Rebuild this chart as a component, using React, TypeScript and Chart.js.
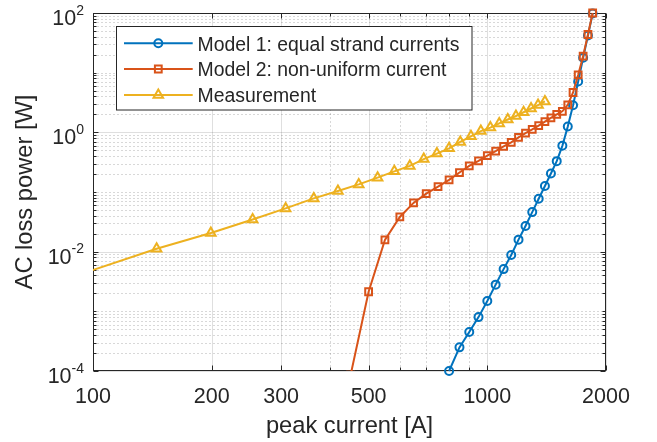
import React, { useEffect, useRef } from "react";
import { Chart, registerables } from "chart.js";

Chart.register(...registerables);

// ---------- data ----------
const X_TICKS = [100, 200, 300, 500, 1000, 2000];
const X_MINOR = [400, 600, 700, 800, 900];
const Y_TICK_EXPONENTS = [2, 0, -2, -4];

const model1X = [800, 850, 900, 950, 1000, 1050, 1100, 1150, 1200, 1250, 1300, 1350, 1400, 1450, 1500, 1550, 1600, 1650, 1700, 1750, 1800, 1850];
const model1Y = [1e-4, 2.49e-4, 4.5e-4, 8.0e-4, 1.49e-3, 2.8e-3, 5.1e-3, 8.8e-3, 1.59e-2, 2.7e-2, 4.6e-2, 7.7e-2, 0.126, 0.204, 0.329, 0.594, 1.25, 2.84, 7.1, 17.8, 42, 98];

const model2X = [450, 500, 550, 600, 650, 700, 750, 800, 850, 900, 950, 1000, 1050, 1100, 1150, 1200, 1250, 1300, 1350, 1400, 1450, 1500, 1550, 1600, 1650, 1700, 1750, 1800, 1850];
const model2Y = [8.5e-5, 2.13e-3, 1.57e-2, 3.82e-2, 6.56e-2, 9.4e-2, 0.123, 0.16, 0.212, 0.274, 0.333, 0.408, 0.484, 0.582, 0.68, 0.824, 0.97, 1.12, 1.3, 1.51, 1.75, 2.0, 2.25, 2.89, 4.65, 9.15, 19.0, 43.6, 100];

const measX = [90, 145, 199, 254, 308, 363, 418, 472, 527, 581, 636, 690, 745, 800, 854, 909, 963, 1018, 1072, 1127, 1182, 1236, 1291, 1345, 1400];
const measY = [3.9e-3, 0.0112, 0.0206, 0.0347, 0.0531, 0.0781, 0.104, 0.134, 0.174, 0.222, 0.274, 0.356, 0.44, 0.54, 0.69, 0.857, 1.05, 1.2, 1.41, 1.64, 1.88, 2.17, 2.51, 2.86, 3.29];

const LABELS = ["Model 1: equal strand currents", "Model 2: non-uniform current", "Measurement"];
const COLORS = ["#0072BD", "#D95319", "#EDB120"];
const STYLES = ["circle", "rect", "triangle"];

// ---------- styling ----------
const FONT = "'Liberation Sans', Arial, Helvetica, sans-serif";
const AXIS_COLOR = "#262626";

const toPoints = (xs: number[], ys: number[]) => xs.map((x, i) => ({ x, y: ys[i] }));

function yMinorValues(): number[] {
  const out: number[] = [];
  for (let e = -4; e < 2; e++) {
    for (let k = 1; k <= 9; k++) {
      if (k === 1 && e % 2 === 0) continue;
      out.push(k * Math.pow(10, e));
    }
  }
  return out;
}

function drawMarker(ctx: CanvasRenderingContext2D, style: string, x: number, y: number, r: number) {
  ctx.beginPath();
  if (style === "circle") {
    ctx.arc(x, y, r, 0, Math.PI * 2);
  } else if (style === "rect") {
    const s = r * Math.SQRT1_2;
    ctx.rect(x - s, y - s, 2 * s, 2 * s);
  } else {
    const a = (2 * Math.PI) / 3;
    ctx.moveTo(x, y - r);
    ctx.lineTo(x + Math.sin(a) * r, y - Math.cos(a) * r);
    ctx.lineTo(x + Math.sin(2 * a) * r, y - Math.cos(2 * a) * r);
    ctx.closePath();
  }
  ctx.stroke();
}

const gridPlugin = {
  id: "matlabGrid",
  beforeDatasetsDraw(chart: any) {
    const { ctx, chartArea: a, scales } = chart;
    const x = scales.x;
    const y = scales.y;
    const L = a.left + 0.5, R = a.right - 0.5, T = a.top + 0.5, B = a.bottom - 0.5;
    const line = (x1: number, y1: number, x2: number, y2: number) => {
      ctx.beginPath();
      ctx.moveTo(x1, y1);
      ctx.lineTo(x2, y2);
      ctx.stroke();
    };
    ctx.save();
    ctx.lineWidth = 1;
    // minor dotted grid
    ctx.strokeStyle = "rgba(38,38,38,0.36)";
    ctx.setLineDash([1, 3]);
    const yMinor = yMinorValues();
    for (const v of X_MINOR) {
      const px = Math.round(x.getPixelForValue(v)) + 0.5;
      line(px, T, px, B);
    }
    for (const v of yMinor) {
      const py = Math.round(y.getPixelForValue(v)) + 0.5;
      line(L, py, R, py);
    }
    // major solid grid
    ctx.setLineDash([]);
    ctx.strokeStyle = "rgba(38,38,38,0.15)";
    for (const v of X_TICKS) {
      const px = Math.round(x.getPixelForValue(v)) + 0.5;
      line(px, T, px, B);
    }
    for (const e of Y_TICK_EXPONENTS) {
      const py = Math.round(y.getPixelForValue(Math.pow(10, e))) + 0.5;
      line(L, py, R, py);
    }
    // box
    ctx.strokeStyle = AXIS_COLOR;
    ctx.strokeRect(L, T, R - L, B - T);
    // tick marks (inward, all four sides)
    const MAJ = 5, MIN = 3;
    for (const v of X_TICKS) {
      const px = Math.round(x.getPixelForValue(v)) + 0.5;
      line(px, B, px, B - MAJ);
      line(px, T, px, T + MAJ);
    }
    for (const v of X_MINOR) {
      const px = Math.round(x.getPixelForValue(v)) + 0.5;
      line(px, B, px, B - MIN);
      line(px, T, px, T + MIN);
    }
    for (const e of Y_TICK_EXPONENTS) {
      const py = Math.round(y.getPixelForValue(Math.pow(10, e))) + 0.5;
      line(L, py, L + MAJ, py);
      line(R, py, R - MAJ, py);
    }
    for (const v of yMinor) {
      const py = Math.round(y.getPixelForValue(v)) + 0.5;
      line(L, py, L + MIN, py);
      line(R, py, R - MIN, py);
    }
    ctx.restore();
  },
  afterDraw(chart: any) {
    const { ctx, scales } = chart;
    const y = scales.y;
    ctx.save();
    ctx.fillStyle = AXIS_COLOR;
    ctx.textBaseline = "alphabetic";
    ctx.textAlign = "left";
    const right = 84;
    for (const e of Y_TICK_EXPONENTS) {
      const py = y.getPixelForValue(Math.pow(10, e));
      const sup = String(e);
      ctx.font = `14px ${FONT}`;
      const ws = ctx.measureText(sup).width;
      ctx.fillText(sup, right - ws, py + 1.5);
      ctx.font = `21.5px ${FONT}`;
      const wb = ctx.measureText("10").width;
      ctx.fillText("10", right - ws - wb, py + 12);
    }

    // legend
    const bx = 116.5, by = 26.5, bw = 355.5, bh = 83.5;
    ctx.fillStyle = "#ffffff";
    ctx.fillRect(bx, by, bw, bh);
    ctx.strokeStyle = AXIS_COLOR;
    ctx.lineWidth = 1;
    ctx.strokeRect(bx, by, bw, bh);
    const rows = [43.3, 69, 95];
    ctx.font = `19.4px ${FONT}`;
    for (let i = 0; i < 3; i++) {
      const ry = rows[i];
      ctx.strokeStyle = COLORS[i];
      ctx.lineWidth = 2;
      ctx.beginPath();
      ctx.moveTo(124, ry);
      ctx.lineTo(192.7, ry);
      ctx.stroke();
      const r = i === 0 ? 4 : i === 1 ? 4.8 : 5.5;
      drawMarker(ctx, STYLES[i], 158.3, ry, r);
      ctx.fillStyle = AXIS_COLOR;
      ctx.fillText(LABELS[i], 197.5, ry + 7.2);
    }
    ctx.restore();
  },
};

export default function App() {
  const canvasRef = useRef<HTMLCanvasElement | null>(null);

  useEffect(() => {
    if (!canvasRef.current) return;
    const common = {
      borderWidth: 2,
      pointBorderWidth: 2,
      pointBackgroundColor: "rgba(0,0,0,0)",
      pointHoverRadius: 0,
      tension: 0,
      showLine: true,
    };
    const chart = new Chart(canvasRef.current, {
      type: "line",
      data: {
        datasets: [
          {
            ...common,
            label: LABELS[2],
            data: toPoints(measX, measY),
            borderColor: COLORS[2],
            pointBorderColor: COLORS[2],
            pointStyle: STYLES[2],
            pointRadius: 5.5,
            clip: { left: 0, top: 8, right: 8, bottom: 0 },
          },
          {
            ...common,
            label: LABELS[1],
            data: toPoints(model2X, model2Y),
            borderColor: COLORS[1],
            pointBorderColor: COLORS[1],
            pointStyle: STYLES[1],
            pointRadius: 4.8,
            clip: { left: 0, top: 8, right: 8, bottom: 0 },
          },
          {
            ...common,
            label: LABELS[0],
            data: toPoints(model1X, model1Y),
            borderColor: COLORS[0],
            pointBorderColor: COLORS[0],
            pointStyle: STYLES[0],
            pointRadius: 4,
            clip: { left: 0, top: 8, right: 8, bottom: 8 },
          },
        ] as any,
      },
      options: {
        animation: false,
        responsive: true,
        maintainAspectRatio: false,
        devicePixelRatio: 1,
        layout: { padding: { top: 13, right: 51, left: 0, bottom: 0 } },
        plugins: {
          legend: { display: false },
          tooltip: { enabled: false },
        },
        events: [],
        scales: {
          x: {
            type: "logarithmic",
            min: 100,
            max: 2000,
            grid: { display: false },
            border: { display: false },
            afterBuildTicks: (scale: any) => {
              scale.ticks = X_TICKS.map((v) => ({ value: v }));
            },
            afterFit: (scale: any) => {
              scale.height = 71;
            },
            ticks: {
              autoSkip: false,
              maxRotation: 0,
              minRotation: 0,
              padding: 5,
              color: AXIS_COLOR,
              font: { family: FONT, size: 21.5 },
              callback: (value: any) => String(value),
            },
            title: {
              display: true,
              text: "peak current [A]",
              color: AXIS_COLOR,
              font: { family: FONT, size: 23.7 },
              padding: { top: 0, bottom: 1 },
            },
          },
          y: {
            type: "logarithmic",
            min: 1e-4,
            max: 1e2,
            grid: { display: false },
            border: { display: false },
            ticks: { display: false },
            afterFit: (scale: any) => {
              scale.width = 93;
            },
            title: {
              display: true,
              text: "AC loss power [W]",
              color: AXIS_COLOR,
              font: { family: FONT, size: 23.7 },
              padding: { top: 11, bottom: 0 },
            },
          },
        },
      } as any,
      plugins: [gridPlugin as any],
    });
    return () => chart.destroy();
  }, []);

  return (
    <div style={{ position: "absolute", left: 0, top: 0, width: 657, height: 442, background: "#ffffff" }}>
      <canvas ref={canvasRef} style={{ display: "block" }} />
    </div>
  );
}
